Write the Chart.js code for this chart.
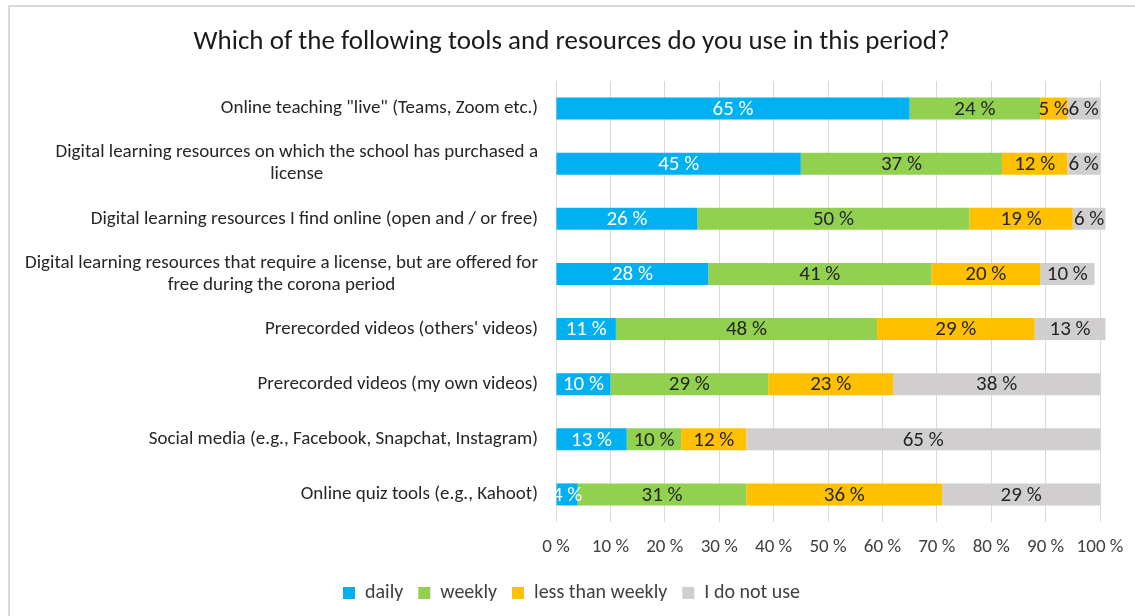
<!DOCTYPE html>
<html>
<head>
<meta charset="utf-8">
<title>Tools and resources</title>
<script src="https://cdn.jsdelivr.net/npm/chart.js@4.4.0/dist/chart.umd.min.js"></script>
<style>
  html, body { margin: 0; padding: 0; background: #fff; }
  #wrap { position: relative; width: 1135px; height: 616px; }
</style>
</head>
<body>
<div id="wrap"><canvas id="toolsChart"></canvas></div>
<script>
// category labels, split where the original wraps them
const categories = [
  ['Online teaching "live" (Teams, Zoom etc.)'],
  ["Digital learning resources on which the school has purchased a", "license"],
  ["Digital learning resources I find online (open and / or free)"],
  ["Digital learning resources that require a license, but are offered for", "free during the corona period"],
  ["Prerecorded videos (others' videos)"],
  ["Prerecorded videos (my own videos)"],
  ["Social media (e.g., Facebook, Snapchat, Instagram)"],
  ["Online quiz tools (e.g., Kahoot)"],
];
const seriesNames = ["daily", "weekly", "less than weekly", "I do not use"];
const daily = [65, 45, 26, 28, 11, 10, 13, 4];
const weekly = [24, 37, 50, 41, 48, 29, 10, 31];
const lessThanWeekly = [5, 12, 19, 20, 29, 23, 12, 36];
const notUsed = [6, 6, 6, 10, 13, 38, 65, 29];
const xTicks = [0, 10, 20, 30, 40, 50, 60, 70, 80, 90, 100];

const FONT = "Carlito, Lato, 'Open Sans', sans-serif";
const colors = ["#00B0F0", "#92D050", "#FFC000", "#D0CECE"];

// white background + light frame like the excel chart area
const frame = {
  id: "frame",
  beforeDraw(chart) {
    const ctx = chart.ctx;
    ctx.save();
    ctx.fillStyle = "#ffffff";
    ctx.fillRect(0, 0, chart.width, chart.height);
    ctx.strokeStyle = "#D9D9D9";
    ctx.lineWidth = 2;
    ctx.strokeRect(9, 6, chart.width + 10, chart.height + 10);
    ctx.restore();
  },
};

// category labels: right aligned, wrapped lines centered on each other
const categoryLabels = {
  id: "categoryLabels",
  afterDraw(chart) {
    const ctx = chart.ctx;
    const yScale = chart.scales.y;
    const right = chart.chartArea.left - 18;
    const lh = 22;
    ctx.save();
    ctx.font = `19px ${FONT}`;
    ctx.fillStyle = "#262626";
    ctx.textAlign = "center";
    ctx.textBaseline = "middle";
    categories.forEach((lines, i) => {
      const widest = Math.max(...lines.map((l) => ctx.measureText(l).width));
      const cx = right - widest / 2;
      const y0 = yScale.getPixelForValue(i) - ((lines.length - 1) * lh) / 2;
      lines.forEach((l, k) => ctx.fillText(l, cx, y0 + k * lh));
    });
    ctx.restore();
  },
};

// value labels in the middle of each segment
const barLabels = {
  id: "barLabels",
  afterDatasetsDraw(chart) {
    const ctx = chart.ctx;
    ctx.save();
    ctx.font = `21px ${FONT}`;
    ctx.textAlign = "center";
    ctx.textBaseline = "middle";
    chart.data.datasets.forEach((ds, di) => {
      const meta = chart.getDatasetMeta(di);
      meta.data.forEach((bar, i) => {
        ctx.fillStyle = di === 0 ? "#ffffff" : "#262626";
        ctx.fillText(ds.data[i] + " %", (bar.x + bar.base) / 2, bar.y + 1);
      });
    });
    ctx.restore();
  },
};

const seriesData = [daily, weekly, lessThanWeekly, notUsed];

new Chart(document.getElementById("toolsChart"), {
  type: "bar",
  data: {
    labels: categories.map((c) => c.join(" ")),
    datasets: seriesNames.map((name, i) => ({
      label: name,
      data: seriesData[i],
      backgroundColor: colors[i],
      borderWidth: 0,
      barPercentage: 0.4,
      categoryPercentage: 1.0,
      clip: false,
    })),
  },
  options: {
    indexAxis: "y",
    responsive: true,
    maintainAspectRatio: false,
    animation: false,
    layout: { padding: { left: 8, right: 0, top: 5, bottom: 3 } },
    scales: {
      x: {
        stacked: true,
        min: 0,
        max: 100,
        afterBuildTicks: (scale) => {
          scale.ticks = xTicks.map((v) => ({ value: v }));
        },
        afterFit: (scale) => {
          scale.height = 46;
        },
        ticks: {
          padding: 11,
          color: "#404040",
          font: { family: FONT, size: 19, lineHeight: 1.5 },
          callback: (v) => v + " %",
        },
        grid: { color: "#D9D9D9", lineWidth: 1, drawTicks: false },
        border: { display: false },
      },
      y: {
        stacked: true,
        ticks: { display: false },
        grid: { display: false },
        border: { display: false },
        afterFit: (scale) => {
          scale.width = 548;
        },
      },
      y2: {
        position: "right",
        ticks: { display: false },
        grid: { display: false },
        border: { display: false },
        afterFit: (scale) => {
          scale.width = 35;
        },
      },
    },
    plugins: {
      title: {
        display: true,
        text: "Which of the following tools and resources do you use in this period?",
        color: "#1a1a1a",
        font: { family: FONT, size: 27, weight: "normal" },
        padding: { top: 21, bottom: 22.6 },
      },
      legend: {
        position: "bottom",
        labels: {
          boxWidth: 12,
          boxHeight: 12,
          padding: 15,
          color: "#404040",
          font: { family: FONT, size: 20 },
        },
      },
      tooltip: { enabled: false },
    },
  },
  plugins: [frame, categoryLabels, barLabels],
});
</script>
</body>
</html>
